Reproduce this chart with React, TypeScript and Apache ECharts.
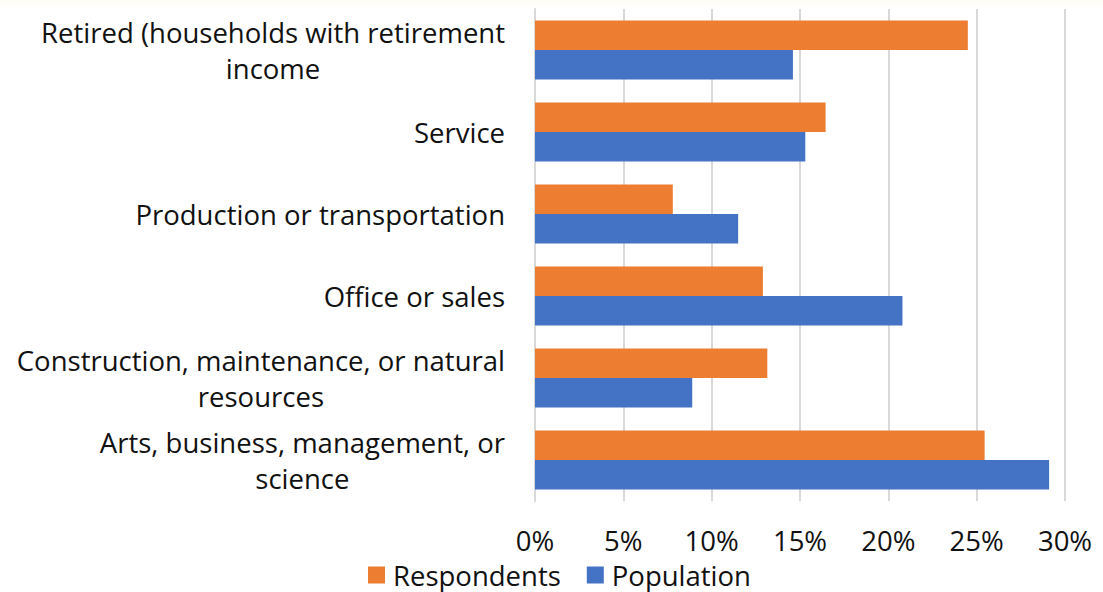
import React, { useEffect, useRef } from "react";
import * as echarts from "echarts";

// Categories listed bottom-to-top (ECharts category y-axis runs upward)
const categories: string[] = [
  "Arts, business, management, or\nscience",
  "Construction, maintenance, or natural\nresources",
  "Office or sales",
  "Production or transportation",
  "Service",
  "Retired (households with retirement\nincome",
];

const respondents: number[] = [25.45, 13.15, 12.9, 7.8, 16.45, 24.5];
const population: number[] = [29.1, 8.9, 20.8, 11.5, 15.3, 14.6];

const seriesNames: string[] = ["Respondents", "Population"];
const xTicks = { min: 0, max: 30, interval: 5 };

const FONT = "'Open Sans', 'Noto Sans', sans-serif";
const FS = 27.5;

export default function App() {
  const ref = useRef<HTMLDivElement>(null);

  useEffect(() => {
    if (!ref.current) return;
    const chart = echarts.init(ref.current, null, { renderer: "svg" });
    chart.setOption({
      animation: false,
      backgroundColor: "#ffffff",
      graphic: [
        {
          type: "rect",
          shape: { x: 0, y: 0, width: 1103, height: 7 },
          style: { fill: "#fefdf8" },
          silent: true,
        },
      ],
      grid: { left: 535, right: 38, top: 9, bottom: 91, containLabel: false },
      legend: {
        data: seriesNames,
        left: 368,
        top: 561,
        padding: 0,
        icon: "rect",
        itemWidth: 17,
        itemHeight: 17,
        itemGap: 26,
        textStyle: {
          fontFamily: FONT,
          fontSize: FS,
          color: "#111",
          lineHeight: 26,
          padding: [0, 0, 0, 3],
        },
      },
      xAxis: {
        type: "value",
        min: xTicks.min,
        max: xTicks.max,
        interval: xTicks.interval,
        axisLine: { show: false },
        axisTick: { show: false },
        splitLine: { show: true, lineStyle: { color: "#d9d9d9", width: 2 } },
        axisLabel: {
          formatter: "{value}%",
          fontFamily: FONT,
          fontSize: FS,
          color: "#111",
          margin: 27,
          lineHeight: 24,
        },
      },
      yAxis: {
        type: "category",
        data: categories,
        axisLine: { show: true, lineStyle: { color: "#d9d9d9", width: 2 } },
        axisTick: { show: false },
        axisLabel: {
          margin: 30,
          formatter: (v: string) =>
            v
              .split("\n")
              .map((s) => `{c|${s}}`)
              .join("\n"),
          rich: {
            c: {
              align: "center",
              fontFamily: FONT,
              fontSize: FS,
              color: "#111",
              lineHeight: 36,
            },
          },
        },
      },
      series: [
        {
          name: seriesNames[0],
          type: "bar",
          data: respondents,
          itemStyle: { color: "#ed7d31" },
          barGap: "0%",
          barCategoryGap: "28%",
        },
        {
          name: seriesNames[1],
          type: "bar",
          data: population,
          itemStyle: { color: "#4472c4" },
          barGap: "0%",
          barCategoryGap: "28%",
        },
      ],
    });
    return () => chart.dispose();
  }, []);

  return (
    <div
      ref={ref}
      style={{ position: "fixed", left: 0, top: 0, width: 1103, height: 592 }}
    />
  );
}
